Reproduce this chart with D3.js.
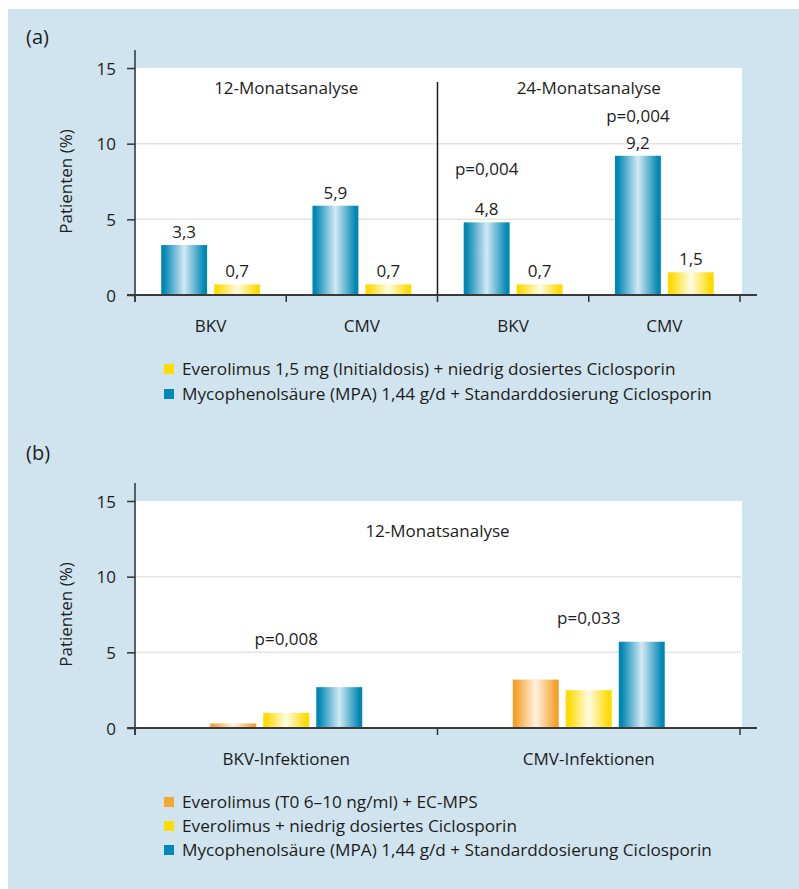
<!DOCTYPE html>
<html>
<head>
<meta charset="utf-8">
<script src="https://cdn.jsdelivr.net/npm/d3@7"></script>
<style>
  html, body { margin: 0; padding: 0; background: #ffffff; }
  svg { display: block; }
  text { font-family: "Open Sans", "Noto Sans", sans-serif; fill: #1d1d1b; }
</style>
</head>
<body>
<svg id="chart" width="799" height="889"></svg>
<script>
// ---- Data -----------------------------------------------------------
// Panel (a): 12- and 24-month analysis, two regimens
const aPeriods = ["12-Monatsanalyse", "24-Monatsanalyse"];
const aCategories = ["BKV", "CMV", "BKV", "CMV"];
const aPeriodOfCategory = [0, 0, 1, 1];
const aMpa = [3.3, 5.9, 4.8, 9.2];          // Mycophenolsäure + Standard-CsA
const aEverolimus = [0.7, 0.7, 0.7, 1.5];   // Everolimus 1,5 mg + niedrig dosiertes CsA
const aPLabels = ["", "", "p=0,004", "p=0,004"];
const aPLabelLevel = [null, null, 7.9, 11.4];
const aLegend = [
  "Everolimus 1,5 mg (Initialdosis) + niedrig dosiertes Ciclosporin",
  "Mycophenolsäure (MPA) 1,44 g/d + Standarddosierung Ciclosporin"
];

// Panel (b): 12-month analysis, three regimens
const bPeriod = "12-Monatsanalyse";
const bCategories = ["BKV-Infektionen", "CMV-Infektionen"];
const bEcMps = [0.3, 3.2];     // Everolimus (T0 6–10 ng/ml) + EC-MPS
const bEveroCsa = [1.0, 2.5];  // Everolimus + niedrig dosiertes CsA
const bMpa = [2.7, 5.7];       // Mycophenolsäure + Standard-CsA
const bPLabels = ["p=0,008", "p=0,033"];
const bPLabelLevel = [5.5, 6.9];
const bLegend = [
  "Everolimus (T0 6–10 ng/ml) + EC-MPS",
  "Everolimus + niedrig dosiertes Ciclosporin",
  "Mycophenolsäure (MPA) 1,44 g/d + Standarddosierung Ciclosporin"
];

const yTicks = [0, 5, 10, 15];
const yLabel = "Patienten (%)";

// ---- Styling --------------------------------------------------------
const colors = {
  orange: { edge: "#f5a22c", mid: "#fff1e2", solid: "#f5a62e" },
  yellow: { edge: "#ffdb00", mid: "#fffbe4", solid: "#ffdc00" },
  blue:   { edge: "#0087b4", mid: "#d3e9f3", solid: "#0088b6" }
};
const fmt = v => String(v).replace(".", ",");

const svg = d3.select("#chart");

// panel background
svg.append("rect").attr("x", 8).attr("y", 9).attr("width", 791).attr("height", 880)
  .attr("fill", "#cfe4ef");

// horizontal gradients for the bars
const defs = svg.append("defs");
Object.entries(colors).forEach(([key, c]) => {
  const g = defs.append("linearGradient").attr("id", "grad-" + key)
    .attr("x1", "0%").attr("x2", "100%").attr("y1", "0%").attr("y2", "0%");
  [[0, c.edge], [6, c.edge], [50, c.mid], [94, c.edge], [100, c.edge]].forEach(([o, col]) => {
    g.append("stop").attr("offset", o + "%").attr("stop-color", col);
  });
});

// ---- Shared frame drawing -------------------------------------------
function drawFrame(g, x, y) {
  const [x0, x1] = x.range();
  const [yb, yt] = y.range();

  // white plotting area
  g.append("rect").attr("x", x0 + 1).attr("y", yt).attr("width", x1 - x0 + 1).attr("height", yb - yt)
    .attr("fill", "#ffffff");

  // gridlines
  g.selectAll(".grid").data(yTicks.filter(t => t > 0 && t < 15)).join("line")
    .attr("x1", x0 + 1).attr("x2", x1 + 1)
    .attr("y1", d => y(d)).attr("y2", d => y(d))
    .attr("stroke", "#e3e3e3").attr("stroke-width", 1.5);

  // y axis
  const yAxis = g.append("g").attr("transform", `translate(${x0},0)`)
    .call(d3.axisLeft(y).tickValues(yTicks).tickSize(8).tickPadding(11).tickFormat(d3.format("d")));
  yAxis.select(".domain").remove();
  yAxis.selectAll(".tick line").attr("stroke", "#333").attr("stroke-width", 1.5);
  yAxis.selectAll(".tick text").style("font-size", "17px").attr("dy", "0.36em");
  g.append("line").attr("x1", x0).attr("x2", x0).attr("y1", yt - 18).attr("y2", yb + 7)
    .attr("stroke", "#333").attr("stroke-width", 1.5);

  // y label
  g.append("text")
    .attr("transform", `translate(${x0 - 63},${(yt + yb) / 2}) rotate(-90)`)
    .attr("text-anchor", "middle").style("font-size", "17px").text(yLabel);
}

function drawBaseline(g, x, y) {
  const [x0, x1] = x.range();
  const yb = y.range()[0];
  g.append("line").attr("x1", x0 - 8).attr("x2", x1 + 17).attr("y1", yb).attr("y2", yb)
    .attr("stroke", "#3a3a3a").attr("stroke-width", 2.2);
  const edges = x.domain().map(d => x(d)).concat([x1]);
  g.selectAll(".edge").data(edges).join("line")
    .attr("x1", d => d).attr("x2", d => d).attr("y1", yb).attr("y2", yb + 7)
    .attr("stroke", "#333").attr("stroke-width", 1.5);
}

function drawLegend(g, items, top, step) {
  const rows = g.selectAll(".legend").data(items).join("g")
    .attr("transform", (d, i) => `translate(164,${top + i * step})`);
  rows.append("rect").attr("x", 0).attr("y", -5).attr("width", 10).attr("height", 10)
    .attr("fill", d => colors[d.color].solid);
  rows.append("text").attr("x", 18).attr("dy", "0.35em").style("font-size", "17.2px").text(d => d.label);
}

// ---- Panel (a) --------------------------------------------------------
{
  const g = svg.append("g");
  const keysA = aCategories.map((c, i) => aPeriodOfCategory[i] + "-" + c);
  const x = d3.scaleBand().domain(keysA).range([135, 740]);
  const y = d3.scaleLinear().domain([0, 15]).range([295, 68]);
  const inner = d3.scaleBand().domain(["mpa", "evero"]).range([0, x.bandwidth()])
    .paddingInner(0.132).paddingOuter(0.495);

  g.append("text").attr("x", 26).attr("y", 44).style("font-size", "20px").text("(a)");
  drawFrame(g, x, y);

  // divider between the two analyses
  g.append("line").attr("x1", x(keysA[2])).attr("x2", x(keysA[2])).attr("y1", 82).attr("y2", 295)
    .attr("stroke", "#1d1d1b").attr("stroke-width", 1.5);

  // period titles
  aPeriods.forEach((p, pi) => {
    const ks = keysA.filter((k, i) => aPeriodOfCategory[i] === pi);
    const cx = (x(ks[0]) + x(ks[ks.length - 1]) + x.bandwidth()) / 2;
    g.append("text").attr("x", cx).attr("y", 94).attr("text-anchor", "middle")
      .style("font-size", "17px").text(p);
  });

  const bars = [];
  keysA.forEach((k, i) => {
    bars.push({ key: k, s: "mpa", v: aMpa[i], color: "blue" });
    bars.push({ key: k, s: "evero", v: aEverolimus[i], color: "yellow" });
  });
  g.selectAll(".bar").data(bars).join("rect")
    .attr("x", d => x(d.key) + inner(d.s)).attr("width", inner.bandwidth())
    .attr("y", d => y(d.v)).attr("height", d => y(0) - y(d.v))
    .attr("fill", d => `url(#grad-${d.color})`);
  g.selectAll(".val").data(bars).join("text")
    .attr("x", d => x(d.key) + inner(d.s) + inner.bandwidth() / 2)
    .attr("y", d => y(d.v) - 7).attr("text-anchor", "middle").style("font-size", "17px")
    .text(d => fmt(d.v));

  // significance labels
  keysA.forEach((k, i) => {
    if (!aPLabels[i]) return;
    g.append("text").attr("x", x(k) + inner("mpa") + inner.bandwidth() / 2)
      .attr("y", y(aPLabelLevel[i])).attr("text-anchor", "middle").style("font-size", "17px")
      .text(aPLabels[i]);
  });

  drawBaseline(g, x, y);
  const xAxis = g.append("g").attr("transform", `translate(0,295)`)
    .call(d3.axisBottom(x).tickSize(0).tickPadding(25).tickFormat((d, i) => aCategories[i]));
  xAxis.select(".domain").remove();
  xAxis.selectAll("text").style("font-size", "17px");

  drawLegend(g, [
    { label: aLegend[0], color: "yellow" },
    { label: aLegend[1], color: "blue" }
  ], 369, 25);
}

// ---- Panel (b) --------------------------------------------------------
{
  const g = svg.append("g");
  const x = d3.scaleBand().domain(bCategories).range([135, 740]);
  const y = d3.scaleLinear().domain([0, 15]).range([728, 501]);
  const inner = d3.scaleBand().domain(["ecmps", "evero", "mpa"]).range([0, x.bandwidth()])
    .paddingInner(0.132).paddingOuter(1.42);

  g.append("text").attr("x", 26).attr("y", 460).style("font-size", "20px").text("(b)");
  drawFrame(g, x, y);

  g.append("text").attr("x", (x.range()[0] + x.range()[1]) / 2).attr("y", 537)
    .attr("text-anchor", "middle").style("font-size", "17px").text(bPeriod);

  const bars = [];
  bCategories.forEach((c, i) => {
    bars.push({ key: c, s: "ecmps", v: bEcMps[i], color: "orange" });
    bars.push({ key: c, s: "evero", v: bEveroCsa[i], color: "yellow" });
    bars.push({ key: c, s: "mpa", v: bMpa[i], color: "blue" });
  });
  g.selectAll(".bar").data(bars).join("rect")
    .attr("x", d => x(d.key) + inner(d.s)).attr("width", inner.bandwidth())
    .attr("y", d => y(d.v)).attr("height", d => y(0) - y(d.v))
    .attr("fill", d => `url(#grad-${d.color})`);

  bCategories.forEach((c, i) => {
    g.append("text").attr("x", x(c) + x.bandwidth() / 2).attr("y", y(bPLabelLevel[i]))
      .attr("text-anchor", "middle").style("font-size", "17px").text(bPLabels[i]);
  });

  drawBaseline(g, x, y);
  const xAxis = g.append("g").attr("transform", `translate(0,728)`)
    .call(d3.axisBottom(x).tickSize(0).tickPadding(25));
  xAxis.select(".domain").remove();
  xAxis.selectAll("text").style("font-size", "17px");

  drawLegend(g, [
    { label: bLegend[0], color: "orange" },
    { label: bLegend[1], color: "yellow" },
    { label: bLegend[2], color: "blue" }
  ], 802, 24);
}
</script>
</body>
</html>
